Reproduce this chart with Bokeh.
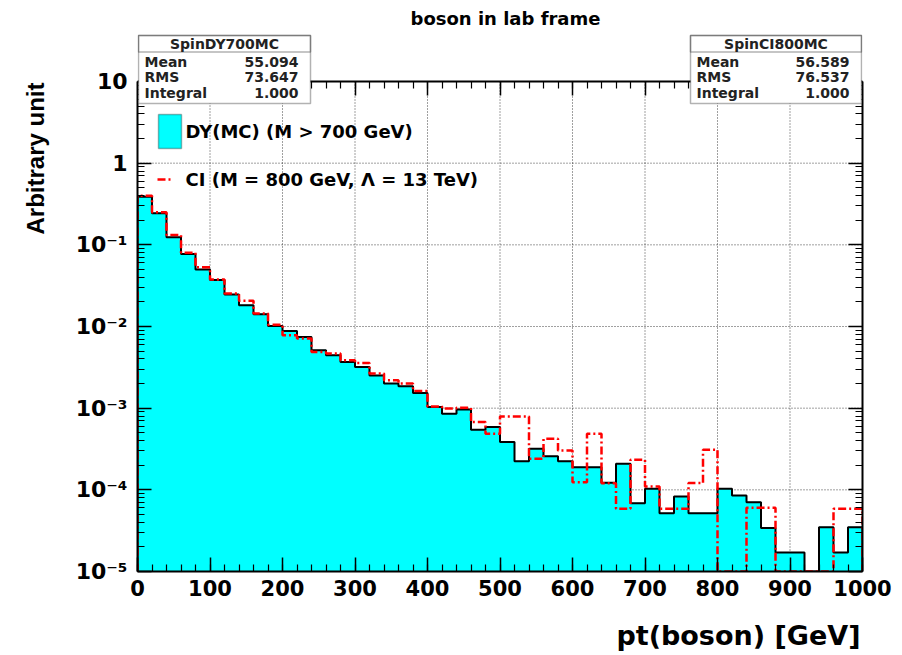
import numpy as np
from bokeh.plotting import figure
from bokeh.models import (FixedTicker, LinearAxis, LogAxis, CustomJSTickFormatter,
                          BoxAnnotation, Label, Range1d, Title)
from bokeh.embed import file_html
from bokeh.resources import INLINE

# ---------------- data ----------------
bin_edges = list(range(0, 1001, 20))

dy_values = [0.389, 0.244, 0.124, 0.0771, 0.050, 0.0370, 0.0247, 0.0182, 0.01416, 0.01016,
             0.00883, 0.00745, 0.00512, 0.00445, 0.00368, 0.00319, 0.00252, 0.00200, 0.00185, 0.00153,
             0.00103, 0.000857, 0.000966, 0.000544, 0.000586, 0.000384, 0.000224, 0.000318, 0.000257, 0.000224,
             0.000189, 0.000189, 0.000122, 0.000208, 0.0000686, 0.000103, 0.0000516, 0.0000828, 0.0000516, 0.0000516,
             0.000103, 0.0000851, 0.0000705, 0.0000342, 0.0000171, 0.0000171, 0.0, 0.0000348, 0.0000171, 0.0000348]

ci_values = [0.400, 0.250, 0.132, 0.080, 0.053, 0.0377, 0.0254, 0.0206, 0.0144, 0.0105,
             0.0078, 0.00713, 0.00488, 0.00467, 0.00386, 0.00357, 0.00265, 0.00219, 0.00200, 0.00162,
             0.00105, 0.00099, 0.00101, 0.000675, 0.000486, 0.000793, 0.000793, 0.000240, 0.000423, 0.000303,
             0.000124, 0.000486, 0.000120, 0.0000585, 0.000233, 0.000110, 0.0000585, 0.0000585, 0.000121, 0.000310,
             0.0, 0.0, 0.0000603, 0.0000603, 0.0, 0.0, 0.0, 0.0, 0.0000585, 0.0000585]

x_ticks = [0, 100, 200, 300, 400, 500, 600, 700, 800, 900, 1000]
x_minor_ticks = list(range(0, 1001, 20))
y_ticks = [1e-5, 1e-4, 1e-3, 1e-2, 1e-1, 1, 10]
y_minor_ticks = [m * t for t in y_ticks[:-1] for m in range(2, 10)]

stat_names = ["Mean", "RMS", "Integral"]
dy_stat_title = "SpinDY700MC"
dy_stats = ["55.094", "73.647", "1.000"]
ci_stat_title = "SpinCI800MC"
ci_stats = ["56.589", "76.537", "1.000"]

title_text = "boson in lab frame"
x_title = "pt(boson) [GeV]"
y_title = "Arbitrary unit"
dy_label = "DY(MC) (M > 700 GeV)"
ci_label = "CI (M = 800 GeV, \u039b = 13 TeV)"

# ---------------- layout ----------------
W, H = 902, 655
FL, FR, FB = 137, 862, 571          # frame left / right / bottom (canvas px); frame top = 0
AX_TOP_PX = 81                      # pixel row of the histogram box top (y = 10)
Y_MIN, Y_BOX_TOP = 1e-5, 10.0
DECADE_PX = (FB - AX_TOP_PX) / (np.log10(Y_BOX_TOP) - np.log10(Y_MIN))
Y_END = 10 ** (np.log10(Y_MIN) + FB / DECADE_PX)   # data value at canvas top


def gx(px):
    return (px - FL) / (FR - FL) * 1000.0


def gy(py):
    return 10 ** (np.log10(Y_MIN) + (FB - py) / DECADE_PX)


def sx(px):   # screen units: relative to frame bottom-left, y upward
    return px - FL


def sy(py):
    return FB - py


FONT = "DejaVu Sans"

p = figure(width=W, height=H, y_axis_type="log",
           x_range=Range1d(0, 1000), y_range=Range1d(Y_MIN, Y_END),
           output_backend="svg", toolbar_location=None, title_location=None,
           min_border_left=FL, min_border_right=W - FR,
           min_border_top=0, min_border_bottom=H - FB,
           background_fill_color="white", border_fill_color="white",
           outline_line_color=None)
p.xgrid.visible = False
p.ygrid.visible = False

# ---------------- grid (under the histogram) ----------------
gxs = x_ticks[1:-1]
p.segment(x0=gxs, x1=gxs, y0=[Y_MIN] * len(gxs), y1=[Y_BOX_TOP] * len(gxs),
          line_color="black", line_alpha=0.75, line_width=1, line_dash="1 2")
gys = y_ticks[1:-1]
p.segment(x0=[0] * len(gys), x1=[1000] * len(gys), y0=gys, y1=gys,
          line_color="black", line_alpha=0.75, line_width=1, line_dash="1 2")

# ---------------- histograms ----------------
fill_floor = Y_MIN / 10
p.quad(left=bin_edges[:-1], right=bin_edges[1:],
       top=[v if v > 0 else fill_floor for v in dy_values],
       bottom=[fill_floor] * len(dy_values),
       fill_color="#00ffff", line_color="#00ffff", line_width=1)


def step_xy(vals):
    xs, ys = [bin_edges[0]], [Y_MIN]
    for i, v in enumerate(vals):
        v = max(v, Y_MIN)
        xs += [bin_edges[i], bin_edges[i + 1]]
        ys += [v, v]
    xs.append(bin_edges[-1])
    ys.append(Y_MIN)
    return xs, ys


bx, by = step_xy(dy_values)
p.line(bx, by, line_color="black", line_width=2)
rx, ry = step_xy(ci_values)
p.line(rx, ry, line_color="#ff0000", line_width=2.5, line_dash="8 3 2 3")

# ---------------- axes ----------------
xt = FixedTicker(ticks=x_ticks, minor_ticks=x_minor_ticks)
yt = FixedTicker(ticks=y_ticks, minor_ticks=y_minor_ticks)

ylabel_fmt = CustomJSTickFormatter(code="""
const e = Math.round(Math.log10(tick));
if (e === 0) return "1";
if (e === 1) return "10";
const sup = {"-": "\u207b", "0": "\u2070", "1": "\u00b9", "2": "\u00b2", "3": "\u00b3",
             "4": "\u2074", "5": "\u2075", "6": "\u2076", "7": "\u2077", "8": "\u2078", "9": "\u2079"};
return "10" + String(e).split("").map(c => sup[c]).join("");
""")
blank_fmt = CustomJSTickFormatter(code="return '';")


def style_axis(ax, size):
    ax.axis_line_color = "black"
    ax.axis_line_width = 2
    ax.major_tick_in = 14
    ax.major_tick_out = 0
    ax.minor_tick_in = 7
    ax.minor_tick_out = 0
    ax.major_tick_line_color = "black"
    ax.major_tick_line_width = 1.5
    ax.minor_tick_line_color = "black"
    ax.minor_tick_line_width = 1.2
    ax.major_label_text_font = FONT
    ax.major_label_text_font_style = "bold"
    ax.major_label_text_font_size = size
    ax.major_label_text_color = "black"


xa = p.xaxis[0]
xa.ticker = xt
style_axis(xa, "21px")
xa.major_label_standoff = 8
# empty spacer label so that the x title sits lower, as in the reference
xa.axis_label = " "
xa.axis_label_standoff = 2
xa.axis_label_text_font_size = "14px"

# top edge of the histogram box: an x axis drawn at y = 10 with ticks pointing down
top_ax = LinearAxis(ticker=xt, formatter=blank_fmt, fixed_location=Y_BOX_TOP)
style_axis(top_ax, "1px")
top_ax.major_tick_in = 0
top_ax.major_tick_out = 14
top_ax.minor_tick_in = 0
top_ax.minor_tick_out = 7
top_ax.major_label_standoff = 0
p.add_layout(top_ax, "below")

ya = p.yaxis[0]
ya.ticker = yt
ya.formatter = ylabel_fmt
ya.bounds = (Y_MIN, Y_BOX_TOP)
style_axis(ya, "22px")
ya.major_label_standoff = 10

right_ax = LogAxis(ticker=yt, formatter=blank_fmt, bounds=(Y_MIN, Y_BOX_TOP))
style_axis(right_ax, "1px")
right_ax.major_label_standoff = 0
p.add_layout(right_ax, "right")

# ---------------- axis titles ----------------
p.add_layout(Title(text=x_title, align="right", offset=2, vertical_align="top",
                   standoff=0, text_font=FONT, text_font_style="bold",
                   text_font_size="27px", text_color="black"), "below")
p.add_layout(Title(text=y_title, align="right", offset=82, vertical_align="top",
                   standoff=43, text_font="Liberation Sans", text_font_style="bold",
                   text_font_size="24px", text_color="black"), "left")


def screen_box(x0, x1, y0, y1, **kw):
    return BoxAnnotation(left=sx(x0), right=sx(x1), top=sy(y0), bottom=sy(y1),
                         left_units="screen", right_units="screen",
                         top_units="screen", bottom_units="screen", **kw)


def screen_label(px, py, text, size, align="left", font=FONT, color="black"):
    return Label(x=sx(px), y=sy(py), x_units="screen", y_units="screen", text=text,
                 text_align=align, text_baseline="middle",
                 text_font=font, text_font_style="bold",
                 text_font_size=size, text_color=color)


# ---------------- stats boxes ----------------
def stats_box(x0, x1, title, values):
    p.add_layout(screen_box(x0, x1, 35, 103, fill_color="white", fill_alpha=1.0,
                            line_color="black", line_width=1.5))
    p.add_layout(screen_box(x0, x1, 35, 51.5, fill_color=None, fill_alpha=0,
                            line_color="black", line_width=1.5))
    p.add_layout(screen_label((x0 + x1) / 2, 43.5, title, "14px", align="center", color="#222222"))
    for k, (name, val) in enumerate(zip(stat_names, values)):
        yy = 61 + 15.5 * k
        p.add_layout(screen_label(x0 + 6, yy, name, "14px", color="#222222"))
        p.add_layout(screen_label(x1 - 12, yy, val, "14px", align="right", color="#222222"))


stats_box(138, 310, dy_stat_title, dy_stats)
stats_box(690, 861, ci_stat_title, ci_stats)

# ---------------- legend ----------------
p.add_layout(screen_box(158, 181, 114, 148, fill_color="#00ffff", fill_alpha=1.0,
                        line_color="black", line_width=1.5))
p.add_layout(screen_label(185, 131, dy_label, "18px"))
p.line([gx(157), gx(173)], [gy(179), gy(179)], line_color="#ff0000",
       line_width=2.5, line_dash="8 3 2 3")
p.add_layout(screen_label(185, 179, ci_label, "18px"))

# ---------------- main title ----------------
p.add_layout(screen_label(505, 18, title_text, "18px", align="center"))

open("out.html", "w").write(file_html(p, INLINE))
